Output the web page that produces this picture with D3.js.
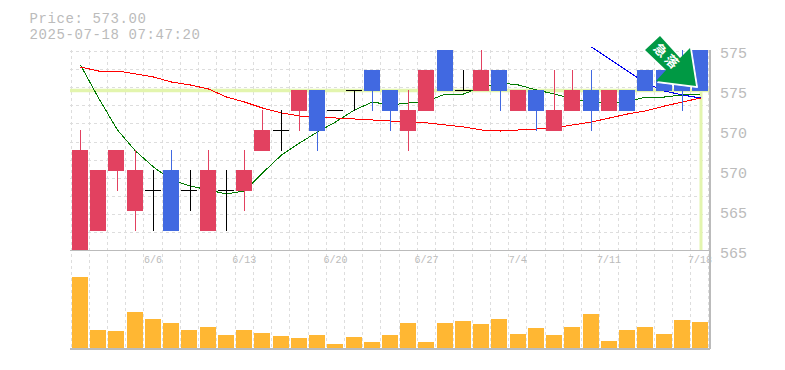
<!DOCTYPE html>
<html>
<head>
<meta charset="utf-8">
<script src="https://cdn.jsdelivr.net/npm/d3@7"></script>
<style>
    body { margin: 0; background: #fff; }
    svg { display: block; }
    text { font-family: "Liberation Mono", "DejaVu Sans Mono", monospace; fill: #bbb; }
</style>
</head>
<body>
<div id="chart"></div>
<script>
var titleLines = ["Price: 573.00", "2025-07-18 07:47:20"];
var currentPrice = 573;

var dates = ["6/2", "6/3", "6/4", "6/5", "6/6", "6/9", "6/10", "6/11", "6/12", "6/13",
    "6/16", "6/17", "6/18", "6/19", "6/20", "6/23", "6/24", "6/25", "6/26", "6/27",
    "6/30", "7/1", "7/2", "7/3", "7/4", "7/7", "7/8", "7/9", "7/10", "7/11",
    "7/14", "7/15", "7/16", "7/17", "7/18"];
var opens = [565, 566, 569, 567, 568, 569, 568, 566, 568, 568,
    570, 571, 572, 573, 572, 573, 574, 573, 571, 572,
    575, 573, 573, 574, 572, 573, 571, 572, 573, 572,
    573, 574, 574, 574, 575];
var closes = [570, 569, 570, 569, 568, 566, 568, 569, 568, 569,
    571, 571, 573, 571, 572, 573, 573, 572, 572, 574,
    573, 573, 574, 573, 573, 572, 572, 573, 572, 573,
    572, 573, 573, 573, 573];
var highs = [571, 569, 570, 570, 569, 570, 569, 570, 569, 570,
    572, 572, 573, 573, 572, 573, 574, 573, 573, 574,
    575, 574, 575, 574, 573, 573, 574, 574, 574, 573,
    573, 574, 574, 575, 575];
var lows = [565, 566, 568, 566, 566, 566, 567, 566, 566, 567,
    570, 570, 571, 570, 572, 572, 572, 571, 570, 572,
    573, 573, 573, 572, 572, 571, 571, 572, 571, 572,
    572, 573, 573, 572, 573];
var volumes = [71, 18, 17, 36, 29, 25, 18, 21, 13, 18,
    15, 12, 10, 13, 4, 11, 6, 13, 25, 6,
    25, 27, 24, 29, 14, 20, 13, 21, 34, 7,
    18, 21, 14, 28, 26];
var maShort = [574.25, 572.6, 571, 569.95, 569.15, 568.5, 568.2, 568, 567.8, 567.95,
    568.85, 569.75, 570.35, 570.9, 571.4, 572, 572.4, 572.25, 572.35, 572.45,
    572.8, 572.8, 573.15, 573.35, 573.25, 573, 572.8, 572.55, 572.4, 572.4,
    572.4, 572.65, 572.65, 572.75, 572.8];
var maLong = [574.15, 573.95, 573.95, 573.8, 573.65, 573.4, 573.25, 573.05, 572.65, 572.4,
    572.1, 571.85, 571.7, 571.65, 571.6, 571.55, 571.5, 571.45, 571.4, 571.35,
    571.25, 571.15, 571, 570.95, 571, 571.05, 571.1, 571.25, 571.4, 571.6,
    571.8, 571.95, 572.2, 572.4, 572.6];
var trendDates = ["7/10", "7/11", "7/14", "7/15", "7/16", "7/17", "7/18"];
var trendValues = [575.15, 574.55, 573.95, 573.35, 572.95, 572.75, 572.6];
var priceTicks = [574.85, 572.85, 570.85, 568.85, 566.85, 564.85];
var dateTicks = ["6/6", "6/13", "6/20", "6/27", "7/4", "7/11", "7/18"];
var noticeText = "急落";

var width = 785, height = 370;
var svg = d3.select("#chart").append("svg")
    .attr("width", width)
    .attr("height", height);

///////////////////////
// scales
var x = d3.scaleBand().domain(dates).range([72, 708.2]).paddingInner(0.11);
var y = d3.scaleLinear().domain([565, 575]).range([250, 50]);
var yVol = d3.scaleLinear().domain([0, 71]).range([348, 277]);
function cx(d) { return Math.round(x(d) + x.bandwidth() / 2) + 0.5; }

///////////////////////
// grid
var grid = svg.append("g")
    .attr("stroke", "#ddd")
    .attr("stroke-dasharray", "3,3")
    .attr("shape-rendering", "crispEdges");
grid.selectAll("line.v")
    .data(dates.concat(["end"]))
    .enter().append("line")
    .attr("class", "v")
    .attr("x1", function (d) { return d == "end" ? 708 : Math.round(x(d) - 1.5); })
    .attr("x2", function (d) { return d == "end" ? 708 : Math.round(x(d) - 1.5); })
    .attr("y1", 50)
    .attr("y2", 349);
grid.selectAll("line.h")
    .data(d3.range(11))
    .enter().append("line")
    .attr("class", "h")
    .attr("x1", 70)
    .attr("x2", 710)
    .attr("y1", function (d) { return Math.round(51 + d * 18.1); })
    .attr("y2", function (d) { return Math.round(51 + d * 18.1); });

///////////////////////
// current price lines
svg.append("line")
    .attr("x1", 70).attr("x2", 710)
    .attr("y1", y(currentPrice) + 0.5).attr("y2", y(currentPrice) + 0.5)
    .attr("stroke", "#e3f5ae").attr("stroke-width", 3.5);
svg.append("line")
    .attr("x1", cx("7/18") + 0.5).attr("x2", cx("7/18") + 0.5)
    .attr("y1", y(currentPrice)).attr("y2", 250)
    .attr("stroke", "#e3f5ae").attr("stroke-width", 3);

///////////////////////
// moving averages, under the candles
function drawLine(keys, values, color, w) {
    var line = d3.line()
        .x(function (d) { return cx(d); })
        .y(function (d, i) { return y(values[i]); });
    svg.append("path")
        .attr("d", line(keys))
        .attr("fill", "none")
        .attr("stroke", color)
        .attr("stroke-width", w)
        .attr("shape-rendering", "crispEdges");
}
drawLine(trendDates, trendValues, "#0000ee", 1);
drawLine(dates, maShort, "#007a00", 1);
drawLine(dates, maLong, "#ff0000", 1);

///////////////////////
// candles
function candleColor(i) {
    if (closes[i] > opens[i]) return "#e24160";
    if (closes[i] < opens[i]) return "#4169e1";
    return "#000";
}
var candles = svg.append("g").attr("shape-rendering", "crispEdges");
candles.selectAll("line.wick")
    .data(dates)
    .enter().append("line")
    .attr("class", "wick")
    .attr("x1", function (d) { return cx(d); })
    .attr("x2", function (d) { return cx(d); })
    .attr("y1", function (d, i) { return y(highs[i]); })
    .attr("y2", function (d, i) { return y(lows[i]) + 1; })
    .attr("stroke", function (d, i) { return candleColor(i); });
candles.selectAll("rect.body")
    .data(dates)
    .enter().append("rect")
    .attr("class", "body")
    .attr("x", function (d) { return Math.round(x(d)); })
    .attr("width", 16)
    .attr("y", function (d, i) { return y(Math.max(opens[i], closes[i])); })
    .attr("height", function (d, i) { return Math.abs(y(opens[i]) - y(closes[i])) + 1; })
    .attr("fill", function (d, i) { return candleColor(i); });

///////////////////////
// volume
svg.append("g").attr("shape-rendering", "crispEdges")
    .selectAll("rect")
    .data(dates)
    .enter().append("rect")
    .attr("x", function (d) { return Math.round(x(d)); })
    .attr("width", 16)
    .attr("y", function (d, i) { return yVol(volumes[i]); })
    .attr("height", function (d, i) { return yVol(0) - yVol(volumes[i]); })
    .attr("fill", "#ffb733");

///////////////////////
// frame
var frame = svg.append("g")
    .attr("stroke", "#bbb")
    .attr("stroke-width", 1.5)
    .attr("shape-rendering", "crispEdges");
frame.append("line").attr("x1", 70).attr("x2", 710).attr("y1", 250.5).attr("y2", 250.5);
frame.append("line").attr("x1", 70).attr("x2", 710).attr("y1", 349).attr("y2", 349);
frame.append("line").attr("x1", 710).attr("x2", 710).attr("y1", 50).attr("y2", 349);

///////////////////////
// axes
var yAxis = d3.axisRight(y)
    .tickValues(priceTicks)
    .tickFormat(function (d) { return 5 * Math.round(d / 5); })
    .tickSize(0)
    .tickPadding(0);
svg.append("g")
    .attr("transform", "translate(720,0)")
    .call(yAxis)
    .call(function (g) { g.select(".domain").remove(); })
    .selectAll("text")
    .style("font-family", '"Liberation Mono", monospace')
    .style("font-size", "15px")
    .style("fill", "#bbb");

var xAxis = d3.axisBottom(x)
    .tickValues(dateTicks)
    .tickSize(0)
    .tickPadding(0);
svg.append("g")
    .attr("transform", "translate(0,256)")
    .call(xAxis)
    .call(function (g) { g.select(".domain").remove(); })
    .selectAll("text")
    .style("font-family", '"Liberation Mono", monospace')
    .style("font-size", "10px")
    .style("fill", "#bbb");

///////////////////////
// title
svg.selectAll("text.title")
    .data(titleLines)
    .enter().append("text")
    .attr("class", "title")
    .attr("x", 29.5)
    .attr("y", function (d, i) { return 22.5 + i * 16; })
    .style("font-size", "14px")
    .style("letter-spacing", "0.6px")
    .text(function (d) { return d; });

///////////////////////
// notice arrow, tip on the last close
var tipX = cx("7/18") - 4.5, tipY = y(closes[34]) - 4;
var arrowShape = "M-36,-50 L-51,-36 L-30,-16 L-40,-5 L0,0 L-6,-38 L-16,-28 Z";
var arrow = svg.append("g").attr("transform", "translate(" + tipX + "," + tipY + ")");
arrow.append("path")
    .attr("d", arrowShape)
    .attr("transform", "translate(1.5,1.5)")
    .attr("fill", "#fff")
    .attr("stroke", "#fff");
arrow.append("path")
    .attr("d", arrowShape)
    .attr("fill", "#009944");
arrow.append("text")
    .attr("transform", "translate(-29,-29) rotate(45)")
    .attr("text-anchor", "middle")
    .attr("dy", "0.35em")
    .style("font-family", '"Noto Sans CJK JP", sans-serif')
    .style("font-size", "13px")
    .style("font-weight", "bold")
    .style("letter-spacing", "3px")
    .style("fill", "#fff")
    .text(noticeText);
</script>
</body>
</html>
